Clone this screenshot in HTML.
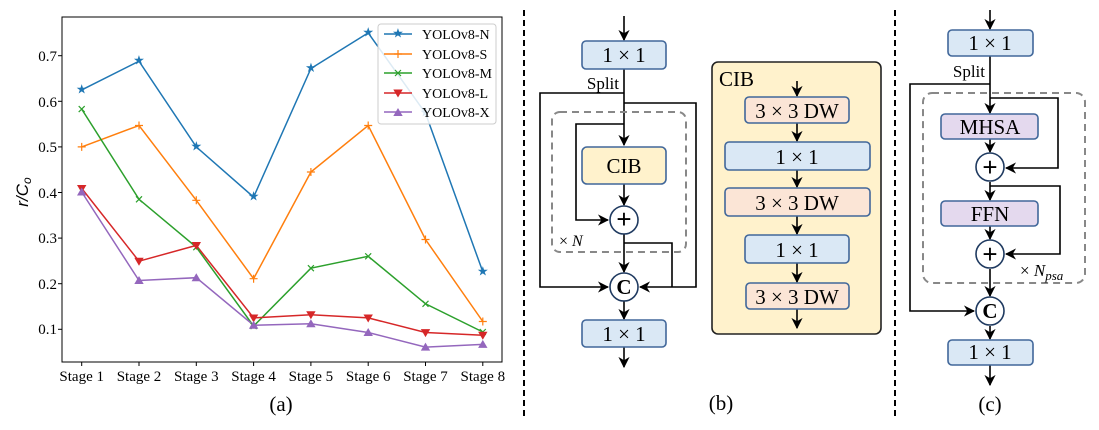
<!DOCTYPE html>
<html><head><meta charset="utf-8"><style>
html,body{margin:0;padding:0;background:#fff;}
svg{display:block;font-family:"Liberation Serif",serif;}
</style></head><body>
<svg width="1099" height="430" viewBox="0 0 1099 430" xmlns="http://www.w3.org/2000/svg">
<defs>
<marker id="ar" viewBox="0 0 10 10" refX="9" refY="5" markerWidth="7" markerHeight="7" orient="auto"><path d="M0,0 L10,5 L0,10 L3,5 z" fill="#000"/></marker>
</defs>
<!-- Chart (a) -->
<rect x="62" y="17" width="440" height="345" fill="none" stroke="#000" stroke-width="1"/>
<g font-size="15" text-anchor="end">
<text x="57" y="61">0.7</text><line x1="58" y1="55.7" x2="62" y2="55.7" stroke="#000"/>
<text x="57" y="107">0.6</text><line x1="58" y1="101.3" x2="62" y2="101.3" stroke="#000"/>
<text x="57" y="152">0.5</text><line x1="58" y1="146.9" x2="62" y2="146.9" stroke="#000"/>
<text x="57" y="198">0.4</text><line x1="58" y1="192.5" x2="62" y2="192.5" stroke="#000"/>
<text x="57" y="243">0.3</text><line x1="58" y1="238.1" x2="62" y2="238.1" stroke="#000"/>
<text x="57" y="289">0.2</text><line x1="58" y1="283.7" x2="62" y2="283.7" stroke="#000"/>
<text x="57" y="334">0.1</text><line x1="58" y1="329.3" x2="62" y2="329.3" stroke="#000"/>
</g>
<text x="28" y="192" font-size="17" font-family="Liberation Sans,sans-serif" font-style="italic" transform="rotate(-90 28 192)" text-anchor="middle">r/C<tspan font-size="12" dy="3">o</tspan></text>
<g font-size="15" text-anchor="middle">
<text x="81.7" y="381">Stage 1</text><text x="139" y="381">Stage 2</text><text x="196.3" y="381">Stage 3</text><text x="253.6" y="381">Stage 4</text><text x="310.9" y="381">Stage 5</text><text x="368.2" y="381">Stage 6</text><text x="425.5" y="381">Stage 7</text><text x="482.8" y="381">Stage 8</text>
</g>
<g stroke="#000"><line x1="81.7" y1="362" x2="81.7" y2="366"/><line x1="139" y1="362" x2="139" y2="366"/><line x1="196.3" y1="362" x2="196.3" y2="366"/><line x1="253.6" y1="362" x2="253.6" y2="366"/><line x1="310.9" y1="362" x2="310.9" y2="366"/><line x1="368.2" y1="362" x2="368.2" y2="366"/><line x1="425.5" y1="362" x2="425.5" y2="366"/><line x1="482.8" y1="362" x2="482.8" y2="366"/></g>
<text x="281" y="411" font-size="21" text-anchor="middle">(a)</text>
<g fill="none" stroke-width="1.5">
<polyline stroke="#1f77b4" points="81.7,89.9 139,61.2 196.3,146.9 253.6,197.1 310.9,68.5 368.2,32.9 425.5,113.2 482.8,271.8"/>
<polyline stroke="#ff7f0e" points="81.7,146.9 139,125.5 196.3,200.3 253.6,278.7 310.9,172 368.2,125.5 425.5,239.5 482.8,321.5"/>
<polyline stroke="#2ca02c" points="81.7,109.1 139,199.3 196.3,247.2 253.6,326.1 310.9,268.2 368.2,256.3 425.5,303.8 482.8,332"/>
<polyline stroke="#d62728" points="81.7,188.4 139,261.2 196.3,245.4 253.6,317.9 310.9,314.7 368.2,317.9 425.5,332.5 482.8,335.2"/>
<polyline stroke="#9467bd" points="81.7,192 139,280.5 196.3,277.7 253.6,325.2 310.9,323.8 368.2,332.5 425.5,347.1 482.8,344.4"/>
</g>
<g font-size="13" text-anchor="middle" dominant-baseline="central" font-family="DejaVu Sans,sans-serif">
<g fill="#1f77b4"><text x="81.7" y="89.9">★</text><text x="139" y="61.2">★</text><text x="196.3" y="146.9">★</text><text x="253.6" y="197.1">★</text><text x="310.9" y="68.5">★</text><text x="368.2" y="32.9">★</text><text x="425.5" y="113.2">★</text><text x="482.8" y="271.8">★</text></g>
</g>
<g stroke-width="1.2">
<g stroke="#ff7f0e"><path d="M77.7,146.9h8M81.7,142.9v8 M135,125.5h8M139,121.5v8 M192.3,200.3h8M196.3,196.3v8 M249.6,278.7h8M253.6,274.7v8 M306.9,172h8M310.9,168v8 M364.2,125.5h8M368.2,121.5v8 M421.5,239.5h8M425.5,235.5v8 M478.8,321.5h8M482.8,317.5v8"/></g>
<g stroke="#2ca02c"><path d="M78.7,106.1l6,6M84.7,106.1l-6,6 M136,196.3l6,6M142,196.3l-6,6 M193.3,244.2l6,6M199.3,244.2l-6,6 M250.6,323.1l6,6M256.6,323.1l-6,6 M307.9,265.2l6,6M313.9,265.2l-6,6 M365.2,253.3l6,6M371.2,253.3l-6,6 M422.5,300.8l6,6M428.5,300.8l-6,6 M479.8,329l6,6M485.8,329l-6,6"/></g>
</g>
<g fill="#d62728">
<path d="M77,185h9.4l-4.7,8z"/><path d="M134.3,257.8h9.4l-4.7,8z"/><path d="M191.6,242h9.4l-4.7,8z"/><path d="M248.9,314.5h9.4l-4.7,8z"/><path d="M306.2,311.3h9.4l-4.7,8z"/><path d="M363.5,314.5h9.4l-4.7,8z"/><path d="M420.8,329.1h9.4l-4.7,8z"/><path d="M478.1,331.8h9.4l-4.7,8z"/>
</g>
<g fill="#9467bd">
<path d="M77,195.5h9.4l-4.7,-8z"/><path d="M134.3,284h9.4l-4.7,-8z"/><path d="M191.6,281.2h9.4l-4.7,-8z"/><path d="M248.9,328.7h9.4l-4.7,-8z"/><path d="M306.2,327.3h9.4l-4.7,-8z"/><path d="M363.5,336h9.4l-4.7,-8z"/><path d="M420.8,350.6h9.4l-4.7,-8z"/><path d="M478.1,347.9h9.4l-4.7,-8z"/>
</g>
<!-- legend -->
<rect x="378" y="24" width="118" height="100" rx="3" fill="#fff" fill-opacity="0.85" stroke="#ccc"/>
<g stroke-width="1.5">
<line x1="384" y1="34" x2="412" y2="34" stroke="#1f77b4"/>
<line x1="384" y1="54" x2="412" y2="54" stroke="#ff7f0e"/>
<line x1="384" y1="73" x2="412" y2="73" stroke="#2ca02c"/>
<line x1="384" y1="93" x2="412" y2="93" stroke="#d62728"/>
<line x1="384" y1="112" x2="412" y2="112" stroke="#9467bd"/>
</g>
<text x="398" y="34" font-size="13" fill="#1f77b4" text-anchor="middle" dominant-baseline="central" font-family="DejaVu Sans,sans-serif">★</text>
<path d="M394,54h8M398,50v8" stroke="#ff7f0e" stroke-width="1.2"/>
<path d="M395,70l6,6M401,70l-6,6" stroke="#2ca02c" stroke-width="1.2"/>
<path d="M393.3,89.5h9.4l-4.7,8z" fill="#d62728"/>
<path d="M393.3,116h9.4l-4.7,-8z" fill="#9467bd"/>
<g font-size="14"><text x="422" y="39">YOLOv8-N</text><text x="422" y="59">YOLOv8-S</text><text x="422" y="78">YOLOv8-M</text><text x="422" y="98">YOLOv8-L</text><text x="422" y="117">YOLOv8-X</text></g>

<!-- separators -->
<line x1="524" y1="10" x2="524" y2="420" stroke="#000" stroke-width="2" stroke-dasharray="6,4"/>
<line x1="895" y1="10" x2="895" y2="420" stroke="#000" stroke-width="2" stroke-dasharray="6,4"/>

<!-- Panel b -->
<g stroke="#000" stroke-width="1.6" fill="none">
<line x1="624" y1="16" x2="624" y2="40" marker-end="url(#ar)"/>
<line x1="624" y1="69" x2="624" y2="145" marker-end="url(#ar)"/>
<polyline points="624,93 540,93 540,287 608,287" marker-end="url(#ar)"/>
<polyline points="624,103 696,103 696,287 640,287" marker-end="url(#ar)"/>
<polyline points="624,124 576,124 576,220 608,220" marker-end="url(#ar)"/>
<line x1="624" y1="184" x2="624" y2="205" marker-end="url(#ar)"/>
<line x1="624" y1="234" x2="624" y2="272" marker-end="url(#ar)"/>
<polyline points="624,243 672,243 672,287"/>
<line x1="624" y1="301" x2="624" y2="319" marker-end="url(#ar)"/>
<line x1="624" y1="347" x2="624" y2="367" marker-end="url(#ar)"/>
</g>
<rect x="552" y="112" width="134" height="140" rx="8" fill="none" stroke="#888" stroke-width="2" stroke-dasharray="7,5"/>
<g stroke="#41679a" stroke-width="1.6">
<rect x="582" y="41" width="84" height="28" rx="4" fill="#dae8f5"/>
<rect x="582" y="147" width="84" height="37" rx="5" fill="#fff2cc"/>
<rect x="582" y="320" width="84" height="27" rx="4" fill="#dae8f5"/>
</g>
<g stroke="#1f3a60" stroke-width="1.6" fill="#fff">
<circle cx="624" cy="220" r="14"/><circle cx="624" cy="287" r="14"/>
</g>
<g font-size="21" text-anchor="middle">
<text x="624" y="62">1 × 1</text>
<text x="624" y="173">CIB</text>
<text x="624" y="341">1 × 1</text>
<text x="624" y="228" font-size="26" font-family="Liberation Sans,sans-serif">+</text>
<text x="624" y="294" font-weight="bold">C</text>
<text x="721" y="410">(b)</text>
</g>
<text x="619" y="89" font-size="17" text-anchor="end">Split</text>
<text x="559" y="246" font-size="16">× <tspan font-style="italic">N</tspan></text>

<!-- CIB detail -->
<rect x="712" y="62" width="169" height="272" rx="6" fill="#fff2cc" stroke="#222" stroke-width="1.6"/>
<text x="719" y="86" font-size="21">CIB</text>
<g stroke="#000" stroke-width="1.6">
<line x1="797" y1="81" x2="797" y2="96" marker-end="url(#ar)"/>
<line x1="797" y1="123" x2="797" y2="141" marker-end="url(#ar)"/>
<line x1="797" y1="170" x2="797" y2="187" marker-end="url(#ar)"/>
<line x1="797" y1="216" x2="797" y2="234" marker-end="url(#ar)"/>
<line x1="797" y1="263" x2="797" y2="282" marker-end="url(#ar)"/>
<line x1="797" y1="309" x2="797" y2="328" marker-end="url(#ar)"/>
</g>
<g stroke="#41679a" stroke-width="1.6">
<rect x="745" y="97" width="104" height="26" rx="4" fill="#fbe5d6"/>
<rect x="725" y="142" width="145" height="28" rx="4" fill="#dae8f5"/>
<rect x="725" y="188" width="145" height="28" rx="4" fill="#fbe5d6"/>
<rect x="745" y="235" width="104" height="28" rx="4" fill="#dae8f5"/>
<rect x="746" y="283" width="103" height="26" rx="4" fill="#fbe5d6"/>
</g>
<g font-size="21" text-anchor="middle">
<text x="797" y="118">3 × 3 DW</text>
<text x="797" y="164">1 × 1</text>
<text x="797" y="210">3 × 3 DW</text>
<text x="797" y="257">1 × 1</text>
<text x="797" y="304">3 × 3 DW</text>
</g>

<!-- Panel c -->
<g stroke="#000" stroke-width="1.6" fill="none">
<line x1="990" y1="10" x2="990" y2="29" marker-end="url(#ar)"/>
<line x1="990" y1="56" x2="990" y2="113" marker-end="url(#ar)"/>
<polyline points="990,84 910,84 910,311 974,311" marker-end="url(#ar)"/>
<polyline points="990,98 1058,98 1058,168 1006,168" marker-end="url(#ar)"/>
<line x1="990" y1="139" x2="990" y2="152" marker-end="url(#ar)"/>
<line x1="990" y1="182" x2="990" y2="200" marker-end="url(#ar)"/>
<polyline points="990,186 1060,186 1060,254 1006,254" marker-end="url(#ar)"/>
<line x1="990" y1="226" x2="990" y2="239" marker-end="url(#ar)"/>
<line x1="990" y1="269" x2="990" y2="296" marker-end="url(#ar)"/>
<line x1="990" y1="326" x2="990" y2="339" marker-end="url(#ar)"/>
<line x1="990" y1="365" x2="990" y2="385" marker-end="url(#ar)"/>
</g>
<rect x="923" y="93" width="162" height="190" rx="9" fill="none" stroke="#888" stroke-width="2" stroke-dasharray="7,5"/>
<g stroke="#41679a" stroke-width="1.6">
<rect x="948" y="30" width="85" height="26" rx="4" fill="#dae8f5"/>
<rect x="941" y="114" width="97" height="25" rx="4" fill="#e4d9ee"/>
<rect x="941" y="201" width="97" height="25" rx="4" fill="#e4d9ee"/>
<rect x="948" y="340" width="85" height="25" rx="4" fill="#dae8f5"/>
</g>
<g stroke="#1f3a60" stroke-width="1.6" fill="#fff">
<circle cx="990" cy="167" r="14"/><circle cx="990" cy="254" r="14"/><circle cx="990" cy="311" r="14"/>
</g>
<g font-size="21" text-anchor="middle">
<text x="990" y="50">1 × 1</text>
<text x="990" y="134">MHSA</text>
<text x="990" y="221">FFN</text>
<text x="990" y="359">1 × 1</text>
<text x="990" y="176" font-size="26" font-family="Liberation Sans,sans-serif">+</text>
<text x="990" y="263" font-size="26" font-family="Liberation Sans,sans-serif">+</text>
<text x="990" y="318" font-weight="bold">C</text>
<text x="990" y="411">(c)</text>
</g>
<text x="985" y="77" font-size="17" text-anchor="end">Split</text>
<text x="1020" y="276" font-size="17">× <tspan font-style="italic">N</tspan><tspan font-style="italic" font-size="13" dy="4">psa</tspan></text>
</svg>
</body></html>
